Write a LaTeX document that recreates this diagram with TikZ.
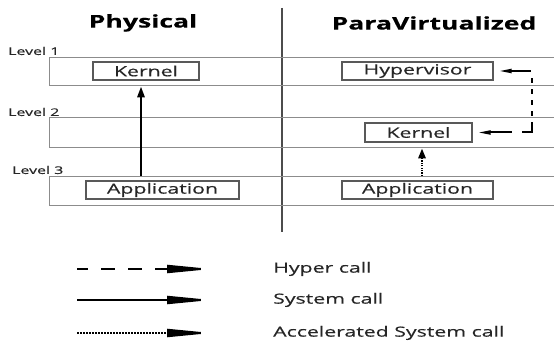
\documentclass[tikz,border=0pt]{standalone}
\usepackage{fontspec}
\setmainfont{Open Sans}[FakeStretch=1.52, FakeBold=0.35]
\usetikzlibrary{arrows.meta, calc}

\begin{document}
\begin{tikzpicture}[
  x=1pt, y=-1pt,
  font=\fontsize{14}{16}\selectfont, text=black!85,
  band/.style={draw=black!45, line width=1.3pt, minimum width=508pt, inner sep=0pt, anchor=north west},
  layer/.style={draw=black!65, line width=1.3pt, minimum height=18pt, inner sep=0pt},
  lvl/.style={font=\fontsize{10.5}{12}\selectfont, inner sep=0pt, anchor=west},
  title/.style={font=\fontsize{17.5}{20}\selectfont\bfseries, text=black, inner sep=0pt},
  syscall/.style={-{Triangle[length=11pt, width=7pt]}, line width=2.6pt},
  accel/.style={-{Triangle[length=10pt, width=7pt]}, line width=2.6pt, dash pattern=on 1.2pt off 1.2pt},
  hyper/.style={{Triangle[length=13pt, width=4pt]}-{Triangle[length=13pt, width=4pt]}, line width=2pt,
    dash pattern=on 20pt off 8pt on 5pt off 6pt on 5pt off 6pt on 5pt off 6pt on 5pt off 6pt on 20pt off 10pt on 40pt,
    shorten <=5pt, shorten >=5pt},
  key/.style={line width=2pt},
  keytip/.style={-{Triangle[length=45pt, width=8pt]}}
]
\fill[white] (0,0) rectangle (554,344);
\useasboundingbox (0,0) rectangle (554,344);

% column titles and the divider
\node[title] (physT) at (143,23) {Physical};
\node[title] (paraT) at (434,23) {ParaVirtualized};
\draw[black!70, line width=1.6pt] (282,8) -- (282,232);

% privilege levels
\node[band, minimum height=28pt] (lev1) at (49,57) {};
\node[band, minimum height=30pt] (lev2) at (49,117) {};
\node[band, minimum height=29pt] (lev3) at (49,176) {};
\node[lvl] at (8,51) {Level 1};
\node[lvl] at (8,112) {Level 2};
\node[lvl] at (12,170) {Level 3};

% physical machine
\node[layer, minimum width=106pt] (kernA) at (146,71) {Kernel};
\node[layer, minimum width=153pt] (appA) at (162.5,190) {Application};

% paravirtualized machine
\node[layer, minimum width=151pt] (hyp) at (417.5,71) {Hypervisor};
\node[layer, minimum width=107pt, minimum height=19pt] (kernB) at (418.5,132.5) {Kernel};
\node[layer, minimum width=151pt] (appB) at (417.5,190) {Application};

% calls between the levels
\coordinate (sysA) at (141,0);
\coordinate (accB) at (422,0);
\draw[syscall] (sysA |- lev3.north) -- (sysA |- lev1.south);
\draw[accel] (accB |- lev3.north) -- (accB |- lev2.south);
\draw[hyper] (hyp.east) -- ++(38,0) |- (kernB.east);

% legend
\coordinate (keyH) at (77,269);
\coordinate (keyS) at (77,300);
\coordinate (keyA) at (77,333);
\draw[key, keytip, dash pattern=on 14pt off 13pt, dash phase=3pt] (keyH) -- ++(135,0);
\draw[key, keytip] (keyS) -- ++(135,0);
\draw[key, keytip, dash pattern=on 1.5pt off 1.5pt] (keyA) -- ++(135,0);
\node[anchor=west, inner sep=0pt] (lblH) at (273,269) {Hyper call};
\node[anchor=west, inner sep=0pt] (lblS) at (273,300) {System call};
\node[anchor=west, inner sep=0pt] (lblA) at (273,333) {Accelerated System call};
\end{tikzpicture}
\end{document}
